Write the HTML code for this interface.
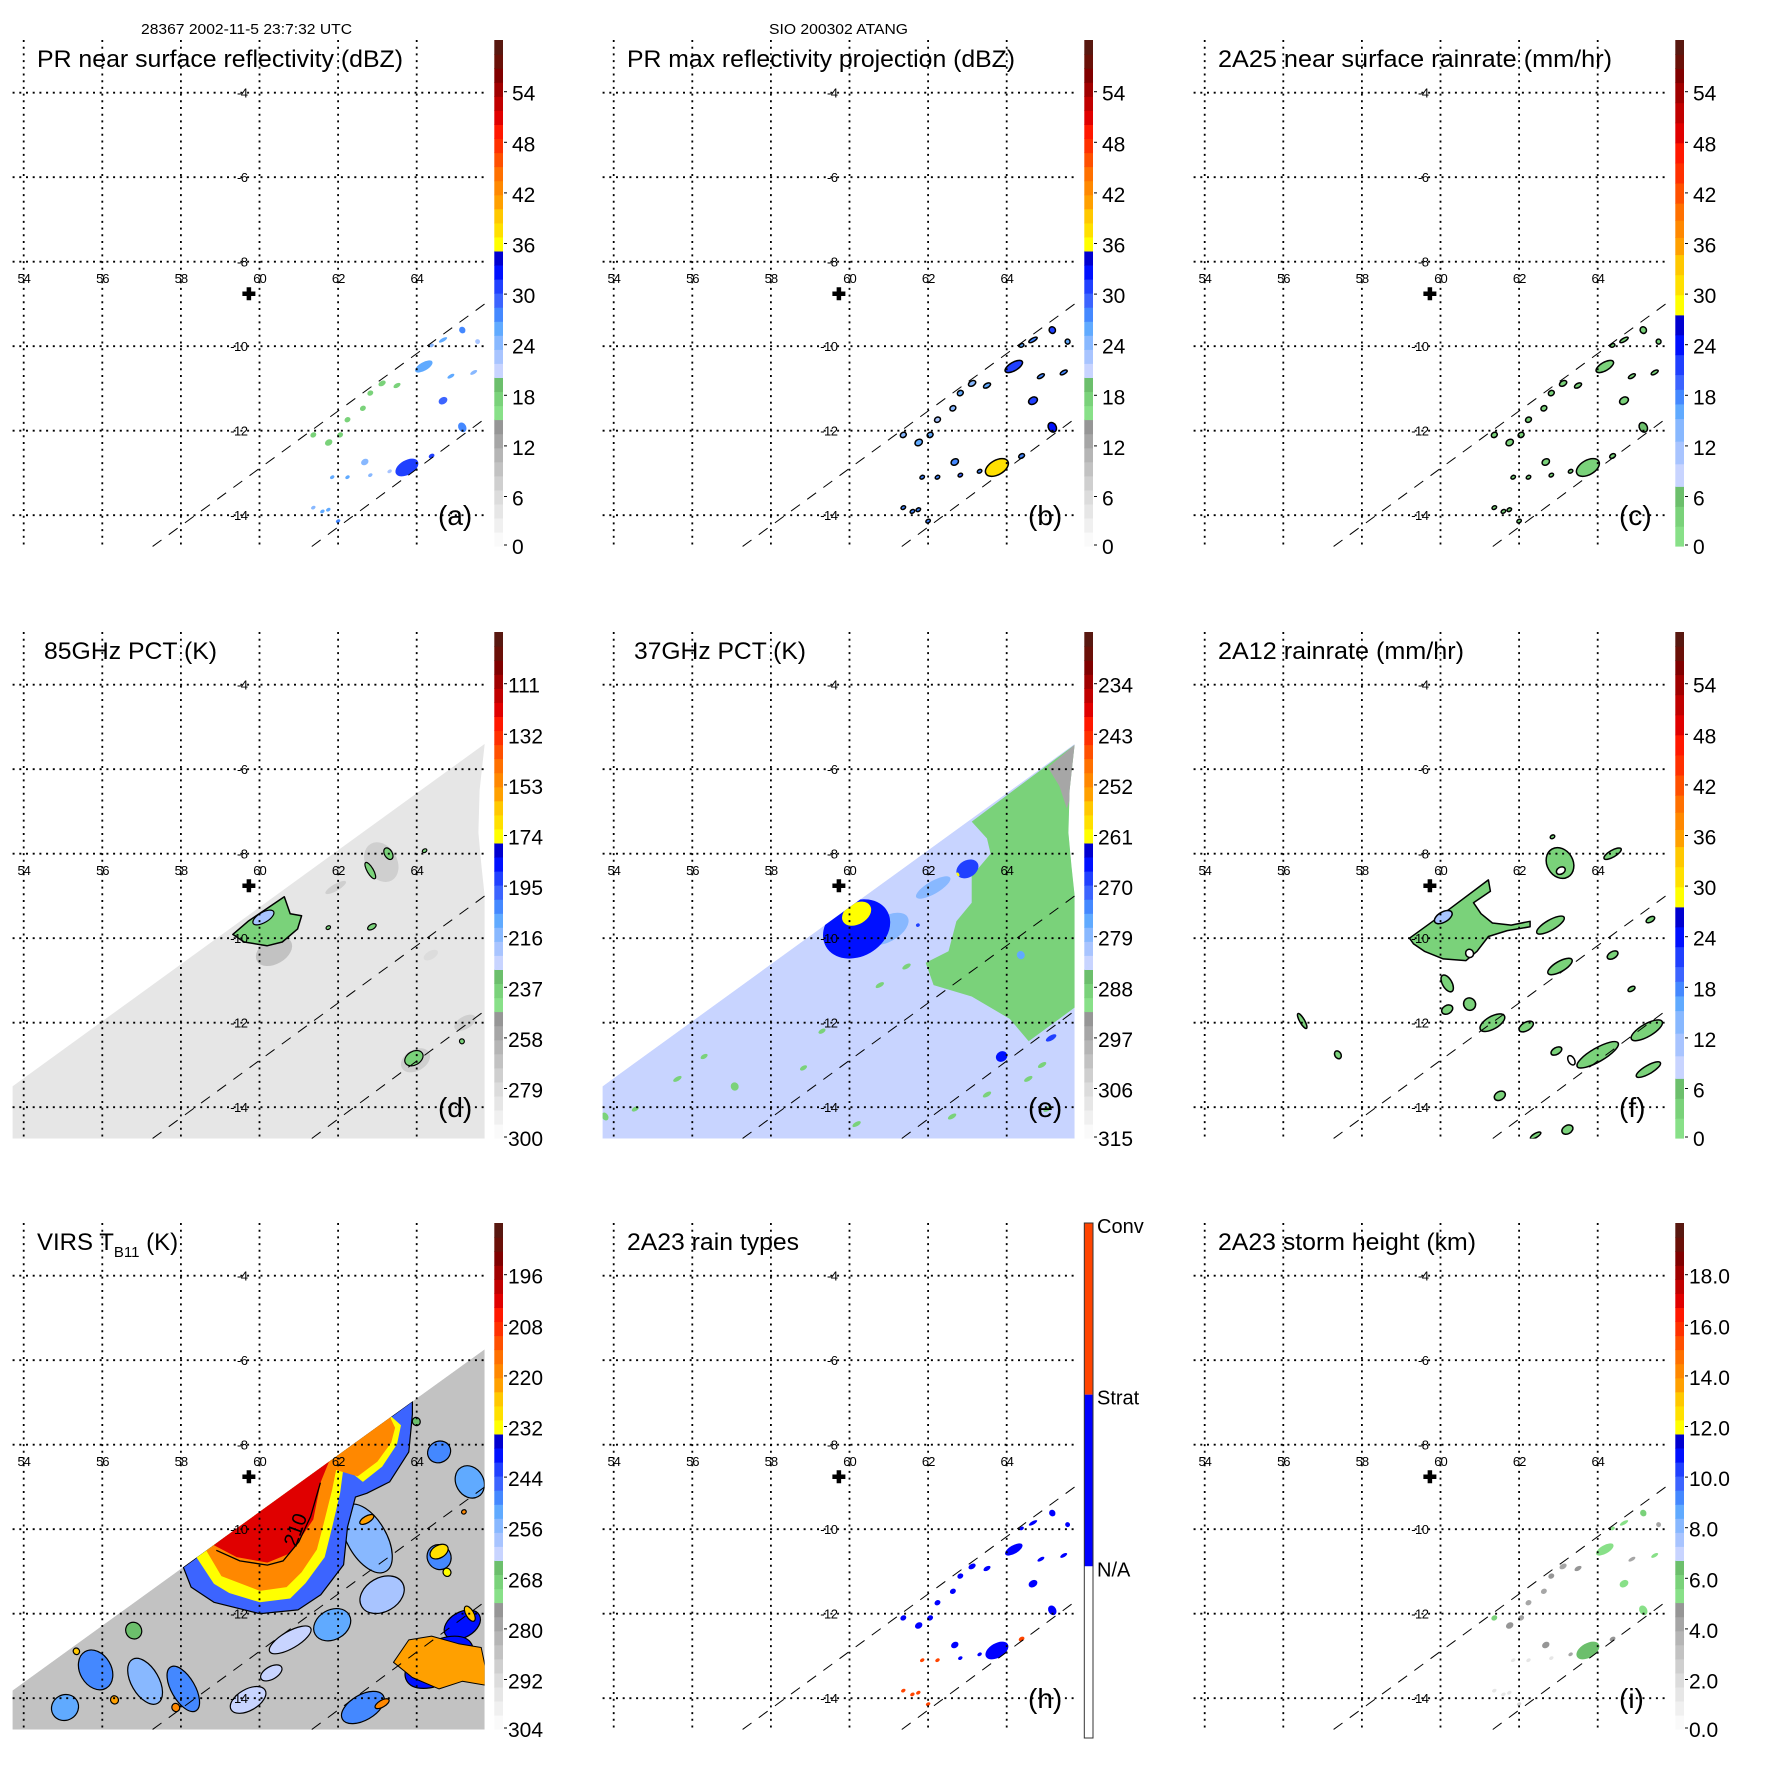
<!DOCTYPE html>
<html><head><meta charset="utf-8"><title>TRMM overpass panels</title>
<style>
html,body{margin:0;padding:0;background:#fff;}
svg{display:block;font-family:"Liberation Sans",Arial,sans-serif;}
</style></head>
<body>
<svg id="fig" width="1771" height="1771" viewBox="0 0 1771 1771" xmlns="http://www.w3.org/2000/svg">
<rect x="0" y="0" width="1771" height="1771" fill="#fff"/>
<defs id="defs"></defs>
</svg>
<script>
// ---------------- data ----------------
const lonTicks=[54,56,58,60,62,64];
const latTicks=[-4,-6,-8,-10,-12,-14];
const lonTickLabels=['54','56','58','60','62','64'];
const latTickLabels=['-4','-6','-8','-10','-12','-14'];
const siteLon=[59.73]; const siteLat=[-8.76];
const swathEdge1Lon=[57.28,65.73]; const swathEdge1Lat=[-14.74,-9.0];
const swathEdge2Lon=[61.33,65.73]; const swathEdge2Lat=[-14.74,-11.72];
// TMI swath (d,e) and VIRS swath (g)
const tmiSwathLon=[53.71,65.73,65.6,65.57,65.65,65.73,65.73,53.71];
const tmiSwathLat=[-13.51,-5.40,-6.5,-7.5,-8.3,-9.0,-14.74,-14.74];
const virsSwathLon=[53.71,65.73,65.73,53.71];
const virsSwathLat=[-13.82,-5.74,-14.74,-14.74];
// PR cells (a,b,c,h,i)
const prLon=[63.75,64.18,62.68,61.37,61.76,62.05,62.24,62.63,62.82,63.12,63.50,65.16,64.67,64.38,64.67,65.16,64.87,65.45,65.55,61.85,62.24,62.82,63.31,64.38,61.37,61.6,61.75,62.0];
const prLat=[-12.87,-10.48,-12.74,-12.10,-12.28,-12.10,-11.74,-11.47,-11.11,-10.88,-10.93,-9.62,-9.85,-9.98,-11.29,-11.92,-10.71,-10.62,-9.89,-13.1,-13.1,-13.05,-12.96,-12.6,-13.82,-13.91,-13.87,-14.14];
const prRadLon=[.32,.25,.1,.08,.1,.08,.08,.08,.08,.1,.1,.08,.12,.06,.12,.1,.1,.1,.06,.06,.06,.06,.06,.08,.06,.06,.06,.06];
const prRadLat=[.17,.1,.07,.06,.07,.06,.06,.06,.06,.06,.05,.08,.04,.04,.08,.12,.04,.04,.06,.04,.04,.04,.04,.05,.04,.04,.04,.04];
const aVal=[31,26,24,17,17,17,17,17,17,17,17,28,26,24,29,27,25,24,22,25,26,24,22,30,24,25,25,27];
const bVal=[37,30,27,24,26,25,23,24,25,24,26,30,28,26,30,33,28,27,26,28,27,29,27,28,27,28,27,28];
const cVal=[4,4,3,3,3,3,3,3,3,3,3,3,3,3,3,5,3,3,3,3,3,3,3,3,3,3,3,3];
const hVal=[1,1,1,1,1,1,1,1,1,1,1,1,1,1,1,1,1,1,1,2,2,1,1,2,2,2,2,2];
const iVal=[6.5,5,4.5,6,4.5,4.3,4,4.2,4.5,4,4.5,6,5,5,5.5,5,4,5.5,4,1.5,1.5,1.5,4,4.5,1.5,1.5,1.5,2];
// 85 GHz (d)
const dBaseVal=[284];
const dShadeLon=[60.37,63.1,63.97,61.94,64.36,65.23];
const dShadeLat=[-10.31,-8.2,-12.89,-8.8,-10.4,-12.0];
const dShadeRx=[.5,.4,.4,.3,.2,.3];
const dShadeRy=[.3,.5,.25,.08,.1,.15];
const dShadeVal=[270,272,272,275,278,276];
const dCoreLon=[59.32,59.71,60.63,60.78,61.07,60.97,60.58,60.19,59.61];
const dCoreLat=[-9.91,-9.6,-9.02,-9.42,-9.47,-9.78,-10.09,-10.18,-10.09];
const dCoreVal=[240];
const dCellLon=[63.28,62.82,63.93,62.86,61.75,65.15,64.2,60.1];
const dCellLat=[-8.0,-8.4,-12.84,-9.73,-9.75,-12.44,-7.93,-9.51];
const dCellRx=[.1,.08,.25,.12,.06,.06,.06,.3];
const dCellRy=[.15,.22,.16,.06,.04,.06,.04,.12];
const dCellVal=[240,240,240,240,240,240,240,220];
// 37 GHz (e)
const eBaseVal=[283];
const eGreenLon=[65.73,63.11,63.50,63.59,63.11,63.11,62.72,62.52,61.94,62.14,63.11,64.08,64.56,65.73];
const eGreenLat=[-5.42,-7.24,-7.64,-8.0,-8.53,-9.16,-9.6,-10.31,-10.58,-11.11,-11.38,-11.91,-12.44,-11.64];
const eGreenVal=[289];
const eGrayLon=[65.05,65.73,65.73,65.53,65.34];
const eGrayLat=[-5.96,-5.42,-6.4,-6.93,-6.4];
const eGrayVal=[296];
const eCellLon=[60.96,62.13,60.18,60.18,63.0,63.87,65.13,61.74,64.36,62.76,60.77,61.45,55.62,53.78,58.83,60.18,62.61,64.55,65.04,57.08,54.55,56.3,59.3,64.9,63.5];
const eCellLat=[-9.78,-8.8,-9.78,-9.42,-8.36,-12.8,-12.36,-9.69,-10.4,-8.49,-11.11,-10.67,-13.33,-14.22,-13.07,-14.4,-14.22,-13.33,-14.04,-13.51,-14.04,-12.8,-12.2,-13.0,-13.7];
const eCellRx=[.6,.5,.9,.4,.3,.15,.15,.05,.1,.03,.12,.12,.12,.08,.1,.12,.12,.12,.12,.1,.1,.1,.1,.12,.12];
const eCellRy=[.3,.15,.65,.25,.2,.12,.06,.04,.1,.05,.05,.05,.05,.1,.05,.05,.05,.05,.05,.1,.05,.05,.05,.05,.05];
const eCellVal=[279,279,267,262,268,266,268,268,275,262,289,289,289,289,289,289,289,289,289,289,289,289,289,289,289];
// 2A12 (f)
const fMainLon=[59.21,60.07,61.22,61.27,60.84,61.03,61.32,61.80,62.28,62.28,61.70,61.22,60.93,60.65,60.07,59.59,59.31];
const fMainLat=[-10.0,-9.42,-8.62,-8.89,-9.16,-9.42,-9.64,-9.69,-9.6,-9.73,-9.82,-9.96,-10.31,-10.53,-10.49,-10.31,-10.13];
const fMainVal=[3];
const fCellLon=[63.04,64.38,62.8,63.04,64.38,65.34,60.17,60.74,60.17,61.32,62.18,64.0,62.95,65.25,65.29,64.86,56.48,57.39,61.51,63.23,62.42,62.85,60.07];
const fCellLat=[-8.22,-8.0,-9.69,-10.67,-10.4,-9.56,-11.07,-11.56,-11.69,-12.0,-12.09,-12.76,-12.67,-12.18,-13.11,-11.2,-11.96,-12.76,-13.73,-14.53,-14.67,-7.6,-9.5];
const fCellRx=[.33,.25,.4,.35,.15,.12,.12,.15,.15,.35,.2,.6,.15,.45,.35,.1,.06,.08,.15,.15,.15,.06,.25];
const fCellRy=[.38,.08,.12,.12,.08,.06,.22,.15,.1,.15,.1,.16,.08,.15,.1,.05,.2,.1,.1,.1,.05,.04,.12];
const fCellVal=[3,3,3,3,3,3,3,3,3,3,3,3,3,3,3,3,3,3,3,3,3,3,10];
const fHoleLon=[63.06,60.74,63.33];
const fHoleLat=[-8.4,-10.36,-12.89];
// VIRS (g)
const gBaseVal=[286];
const gBlueLon=[58.06,58.26,58.84,60.01,60.98,61.56,62.14,62.24,62.44,62.73,63.31,63.80,63.89,63.89];
const gBlueLat=[-10.90,-11.37,-11.73,-12.0,-11.91,-11.55,-10.84,-9.95,-9.24,-9.15,-8.88,-8.17,-7.28,-6.97];
const gBlueVal=[246];
const gYellowLon=[58.40,58.84,59.23,60.01,60.78,61.17,61.66,61.85,62.05,62.14,62.63,63.12,63.50,63.60,63.36];
const gYellowLat=[-10.67,-11.29,-11.51,-11.73,-11.64,-11.28,-10.66,-9.95,-9.15,-8.52,-8.88,-8.52,-7.99,-7.54,-7.34];
const gYellowVal=[233];
const gOrangeLon=[58.65,59.03,60.01,60.69,61.07,61.46,61.66,61.85,61.95,62.5,63.0,63.35,63.45,63.3];
const gOrangeLat=[-10.51,-11.11,-11.46,-11.37,-11.02,-10.48,-9.77,-9.06,-8.6,-8.75,-8.4,-7.95,-7.6,-7.3];
const gOrangeVal=[218];
const gRedLon=[58.84,59.42,60.2,60.78,61.37,61.56,61.76];
const gRedLat=[-10.38,-10.66,-10.79,-10.57,-9.77,-8.88,-8.42];
const gRedVal=[203];
const gSouthLon=[63.41,63.80,64.38,65.06,65.64,65.74,65.74,65.16,64.57,63.89];
const gSouthLat=[-13.15,-12.62,-12.53,-12.71,-12.80,-13.24,-13.69,-13.60,-13.78,-13.51];
const gSouthVal=[222];
const gCellLon=[62.73,63.12,61.85,60.78,64.57,64.57,65.35,65.16,64.57,55.83,57.09,58.06,55.05,59.71,62.63,58.45,63.99,62.73,64.57,64.77,55.34,56.31,57.87,63.12,65.2,65.35,60.3,56.8];
const gCellLat=[-10.22,-11.55,-12.26,-12.62,-10.66,-8.17,-8.88,-12.26,-13.15,-13.33,-13.6,-13.78,-14.22,-14.04,-14.22,-11.19,-7.45,-9.77,-10.53,-11.02,-12.89,-14.04,-14.22,-14.13,-9.59,-12.0,-13.4,-12.4];
const gCellRx=[.5,.6,.5,.6,.3,.3,.35,.5,.95,.4,.35,.3,.35,.5,.6,.2,.1,.2,.25,.1,.08,.1,.1,.2,.06,.1,.3,.2];
const gCellRy=[.9,.4,.35,.2,.3,.25,.4,.3,.5,.5,.6,.6,.3,.25,.3,.1,.1,.08,.15,.1,.08,.1,.1,.08,.05,.2,.15,.2];
const gCellVal=[255,258,252,262,250,248,252,240,240,250,255,248,252,262,250,264,265,222,228,232,225,222,220,220,220,225,262,266];
const gContourLon=[58.9,59.5,60.2,60.6,61.0,61.3,61.55];
const gContourLat=[-10.5,-10.75,-10.85,-10.75,-10.3,-9.7,-8.9];
// colour bar tick labels
const dbzLabels=['54','48','42','36','30','24','18','12','6','0'];
const rainLabels=['54','48','42','36','30','24','18','12','6','0'];
const pct85Labels=['111','132','153','174','195','216','237','258','279','300'];
const pct37Labels=['234','243','252','261','270','279','288','297','306','315'];
const virsLabels=['196','208','220','232','244','256','268','280','292','304'];
const heightLabels=['18.0','16.0','14.0','12.0','10.0','8.0','6.0','4.0','2.0','0.0'];
const typeLabels=['Conv','Strat','N/A'];

// ---------------- drawing ----------------
const NS='http://www.w3.org/2000/svg';
const svg=document.getElementById('fig');
const defs=document.getElementById('defs');
function mk(tag,attrs,parent){const n=document.createElementNS(NS,tag);for(const k in attrs)n.setAttribute(k,attrs[k]);(parent||svg).appendChild(n);return n;}

const BANDS=[['#fafafa','#f0f0f0','#e6e6e6'],['#dcdcdc','#cfcfcf','#c2c2c2'],['#b5b5b5','#a6a6a6','#969696'],['#88e088','#7ad27a','#6cbf6c'],['#c8d4ff','#a8c4ff','#88b8ff'],['#60aaff','#4488ff','#3c64ff'],['#2040ff','#0010ff','#0000d0'],['#ffff00','#ffe000','#ffc800'],['#ffa000','#ff8800','#ff7000'],['#ff5000','#ff3000','#ff1800'],['#e00000','#c00000','#a00000'],['#800000','#6a1008','#581810']];
const CF_EDGES=[0,.118,.252,.339,.457,.576,.678,.797,.916,1];
function stdColor(v,lo,hi){let t=(v-lo)/(hi-lo);t=Math.max(0,Math.min(.9999,t));const b=Math.floor(t*12);const s=Math.min(2,Math.floor((t*12-b)*3));return BANDS[b][s];}
function cfColor(v){let t=Math.max(0,Math.min(.9999,v/60));for(let i=0;i<9;i++){if(t<CF_EDGES[i+1]){const s=Math.min(2,Math.floor((t-CF_EDGES[i])/(CF_EDGES[i+1]-CF_EDGES[i])*3));return BANDS[i+3][s];}}return BANDS[11][2];}

const COLS=[0,590,1181], ROWS=[0,592,1183];
function axes(ox,oy){return {x:lon=>ox+23.7+(lon-54)*39.3, y:lat=>oy+92.7+(-4-lat)*42.25};}
function pts(A,lons,lats){return lons.map((l,i)=>A.x(l).toFixed(1)+','+A.y(lats[i]).toFixed(1)).join(' ');}

function polyMark(A,lons,lats,fill,stroke,sw,parent,name){
  const p=mk('polygon',{points:pts(A,lons,lats),fill:fill,stroke:stroke||'none','stroke-width':sw||0,'stroke-linejoin':'round'},parent);
  
  
  return p;
}
function blobs(A,lons,lats,rx,ry,vals,colorFn,stroke,sw,parent,name){
  for(let i=0;i<lons.length;i++){
    const e=mk('ellipse',{cx:A.x(lons[i]).toFixed(1),cy:A.y(lats[i]).toFixed(1),rx:(rx[i]*39.3).toFixed(1),ry:(ry[i]*42.25).toFixed(1),fill:colorFn(vals[i]),stroke:stroke||'none','stroke-width':sw||0,transform:'rotate(-30 '+A.x(lons[i]).toFixed(1)+' '+A.y(lats[i]).toFixed(1)+')'},parent);
    
    
  }
}

function panel(ci,ri,key,title,titleLen,letter,opts){
  const ox=COLS[ci], oy=ROWS[ri];
  const A=axes(ox,oy);
  const g=mk('g',{});
  
  
  const cp=mk('clipPath',{id:'clip-'+key},defs);
  mk('rect',{x:ox+12.6,y:oy+40,width:472.2,height:506.6},cp);
  const data=mk('g',{'clip-path':'url(#clip-'+key+')'},g);
  
  
  if(opts.draw) opts.draw(A,data);
  // swath edges
  [[swathEdge1Lon,swathEdge1Lat],[swathEdge2Lon,swathEdge2Lat]].forEach((e,i)=>{
    const l=mk('line',{x1:A.x(e[0][0]),y1:A.y(e[1][0]),x2:A.x(e[0][1]),y2:A.y(e[1][1]),stroke:'#000','stroke-width':1,'stroke-dasharray':'11 9'},g);
    
    
  });
  // grid
  lonTicks.forEach((lon,i)=>{
    const l=mk('line',{x1:A.x(lon),y1:oy+40,x2:A.x(lon),y2:oy+546.6,stroke:'#000','stroke-width':1.8,'stroke-dasharray':'2 4.7'},g);
    
    
    const t=mk('text',{x:A.x(lon),y:oy+283,'font-size':13,'text-anchor':'middle','letter-spacing':'-1'},g);
    t.textContent=lonTickLabels[i];
    
    
  });
  latTicks.forEach((lat,i)=>{
    const l=mk('line',{x1:ox+12.6,y1:A.y(lat),x2:ox+484.8,y2:A.y(lat),stroke:'#000','stroke-width':1.8,'stroke-dasharray':'2 4.7'},g);
    
    
    const t=mk('text',{x:A.x(60)-12,y:A.y(lat)+5,'font-size':13,'text-anchor':'end','letter-spacing':'-0.5'},g);
    t.textContent=latTickLabels[i];
    
    
  });
  // site marker
  const cx=A.x(siteLon[0]), cy=A.y(siteLat[0]);
  const cr=mk('path',{d:`M${cx-6.5} ${cy}H${cx+6.5}M${cx} ${cy-6.5}V${cy+6.5}`,stroke:'#000','stroke-width':4.5},g);
  
  
  // title
  const tt=mk('text',{x:ox+(opts.tx||37),y:oy+67,'font-size':24,textLength:titleLen,lengthAdjust:'spacingAndGlyphs'},g);
  if(opts.sub){
    tt.removeAttribute('textLength');
    const a=mk('tspan',{},tt);a.textContent='VIRS T';
    const b=mk('tspan',{'font-size':15,dy:7},tt);b.textContent='B11';
    const c=mk('tspan',{dy:-7},tt);c.textContent=' (K)';
  } else tt.textContent=title;
  
  
  const lt=mk('text',{x:ox+438,y:oy+525,'font-size':28},g);
  lt.textContent=letter;
  
  
  // colour bar
  const bx=ox+494.3, by=oy+40, bw=8.7;
  const cb=mk('g',{},g);
  
  
  if(opts.cbar==='type'){
    const bh=515, seg=bh/3;
    const cols=['#ff4400','#0000ff','#ffffff'];
    cols.forEach((c,i)=>{
      const r=mk('rect',{x:bx,y:by+i*seg,width:bw,height:seg,fill:c},cb);
      
      
      const t=mk('text',{x:ox+507,y:by+i*seg+10,'font-size':20},cb);
      t.textContent=typeLabels[i];
      
      
    });
    const o=mk('rect',{x:bx,y:by,width:bw,height:bh,fill:'none',stroke:'#333','stroke-width':1},cb);
    
    
  } else {
    const bh=506;
    if(opts.cbar==='cf'){
      for(let i=0;i<9;i++){const y0=by+bh*(1-CF_EDGES[i+1]), h=bh*(CF_EDGES[i+1]-CF_EDGES[i]);
        for(let s=0;s<3;s++){const r=mk('rect',{x:bx,y:(y0+h*(2-s)/3).toFixed(1),width:bw,height:(h/3+0.6).toFixed(1),fill:BANDS[i+3][s]},cb);
          
          }}
    } else {
      const h=bh/36;
      for(let k=0;k<36;k++){const b=Math.floor(k/3), s=k%3;
        const r=mk('rect',{x:bx,y:(by+bh-(k+1)*h).toFixed(1),width:bw,height:(h+0.6).toFixed(1),fill:BANDS[b][s]},cb);
        
        }
    }
    opts.labels.forEach((lab,i)=>{
      const ty=(i<9)? oy+92.7+i*50.6 : oy+546;
      const tk=mk('line',{x1:bx+bw+1,x2:bx+bw+4,y1:ty-1,y2:ty-1,stroke:'#000','stroke-width':1},cb);
      
      
      const t=mk('text',{x:ox+(lab.length>2&&lab.indexOf('.')<0?508:(lab.length>2?508:512)),y:ty+8,'font-size':21},cb);
      t.textContent=lab;
      
      
    });
  }
}

// PR panels
function prDraw(vals,colorFn,stroke){return (A,p)=>{blobs(A,prLon,prLat,prRadLon,prRadLat,vals,colorFn,stroke,stroke?1.5:0,p,'rain-cell');};}
const dbzC=v=>stdColor(v,0,60);
panel(0,0,'a','PR near surface reflectivity (dBZ)',366,'(a)',{labels:dbzLabels,draw:prDraw(aVal,dbzC,null)});
panel(1,0,'b','PR max reflectivity projection (dBZ)',388,'(b)',{labels:dbzLabels,draw:prDraw(bVal,dbzC,'#000')});
panel(2,0,'c','2A25 near surface rainrate (mm/hr)',394,'(c)',{labels:rainLabels,cbar:'cf',draw:prDraw(cVal,cfColor,'#000')});

// d
panel(0,1,'d','85GHz PCT (K)',173,'(d)',{labels:pct85Labels,tx:44,draw:(A,p)=>{
  const c=v=>stdColor(v,300,90);
  polyMark(A,tmiSwathLon,tmiSwathLat,c(dBaseVal[0]),null,0,p,'tmi-swath');
  blobs(A,dShadeLon,dShadeLat,dShadeRx,dShadeRy,dShadeVal,c,null,0,p,'scattering-shade');
  polyMark(A,dCoreLon,dCoreLat,c(dCoreVal[0]),'#000',1.5,p,'convective-core');
  blobs(A,dCellLon,dCellLat,dCellRx,dCellRy,dCellVal,c,'#000',1.2,p,'cold-cell');
}});
// e
panel(1,1,'e','37GHz PCT (K)',172,'(e)',{labels:pct37Labels,tx:44,draw:(A,p)=>{
  const c=v=>stdColor(v,315,225);
  const cpp=mk('clipPath',{id:'swath-e'},defs);
  mk('polygon',{points:pts(A,tmiSwathLon,tmiSwathLat)},cpp);
  const q=mk('g',{'clip-path':'url(#swath-e)'},p);
  
  
  polyMark(A,tmiSwathLon,tmiSwathLat,c(eBaseVal[0]),null,0,q,'tmi-swath');
  polyMark(A,eGreenLon,eGreenLat,c(eGreenVal[0]),null,0,q,'warm-land-region');
  polyMark(A,eGrayLon,eGrayLat,c(eGrayVal[0]),null,0,q,'hot-region');
  blobs(A,eCellLon,eCellLat,eCellRx,eCellRy,eCellVal,c,null,0,q,'pct-cell');
}});
// f
panel(2,1,'f','2A12 rainrate (mm/hr)',246,'(f)',{labels:rainLabels,cbar:'cf',draw:(A,p)=>{
  polyMark(A,fMainLon,fMainLat,cfColor(fMainVal[0]),'#000',1.5,p,'main-rain-area');
  blobs(A,fCellLon,fCellLat,fCellRx,fCellRy,fCellVal,cfColor,'#000',1.5,p,'rain-cell');
  blobs(A,fHoleLon,fHoleLat,[.12,.1,.08],[.08,.1,.12],[0,0,0],()=>'#fff','#000',1.5,p,'contour-ring');
}});
// g
panel(0,2,'g','VIRS TB11 (K)',145,'',{labels:virsLabels,sub:true,draw:(A,p)=>{
  const c=v=>stdColor(v,304,184);
  const cpp=mk('clipPath',{id:'swath-g'},defs);
  mk('polygon',{points:pts(A,virsSwathLon,virsSwathLat)},cpp);
  const q=mk('g',{'clip-path':'url(#swath-g)'},p);
  
  
  polyMark(A,virsSwathLon,virsSwathLat,c(gBaseVal[0]),null,0,q,'virs-swath');
  blobs(A,gCellLon,gCellLat,gCellRx,gCellRy,gCellVal,c,'#000',1.2,q,'cloud-cell');
  polyMark(A,gBlueLon,gBlueLat,c(gBlueVal[0]),'#000',1.2,q,'anvil-244K');
  polyMark(A,gYellowLon,gYellowLat,c(gYellowVal[0]),null,0,q,'anvil-232K');
  polyMark(A,gOrangeLon,gOrangeLat,c(gOrangeVal[0]),null,0,q,'anvil-220K');
  polyMark(A,gRedLon.concat([61.9,62.2]),gRedLat.concat([-8.2,-7.9]),c(gRedVal[0]),null,0,q,'anvil-208K');
  polyMark(A,gSouthLon,gSouthLat,c(gSouthVal[0]),'#000',1,q,'southern-cell');
  const cl=mk('polyline',{points:pts(A,gContourLon,gContourLat),fill:'none',stroke:'#000','stroke-width':1.3},q);
  
  
  const lab=mk('text',{x:A.x(60.93),y:A.y(-10.44),'font-size':20,transform:`rotate(-70 ${A.x(60.93)} ${A.y(-10.44)})`},q);
  lab.textContent='210';
  
  
}});
// h
panel(1,2,'h','2A23 rain types',172,'(h)',{cbar:'type',draw:prDraw(hVal,v=>v===2?'#ff4400':'#0000ff',null)});
// i
panel(2,2,'i','2A23 storm height (km)',258,'(i)',{labels:heightLabels,draw:prDraw(iVal,v=>stdColor(v,0,20),null)});

// header texts
const h1=mk('text',{x:141,y:34,'font-size':14.5,textLength:211,lengthAdjust:'spacingAndGlyphs'});
h1.textContent='28367 2002-11-5 23:7:32 UTC';


const h2=mk('text',{x:769,y:34,'font-size':14.5,textLength:139,lengthAdjust:'spacingAndGlyphs'});
h2.textContent='SIO 200302 ATANG';


</script>
</body></html>
